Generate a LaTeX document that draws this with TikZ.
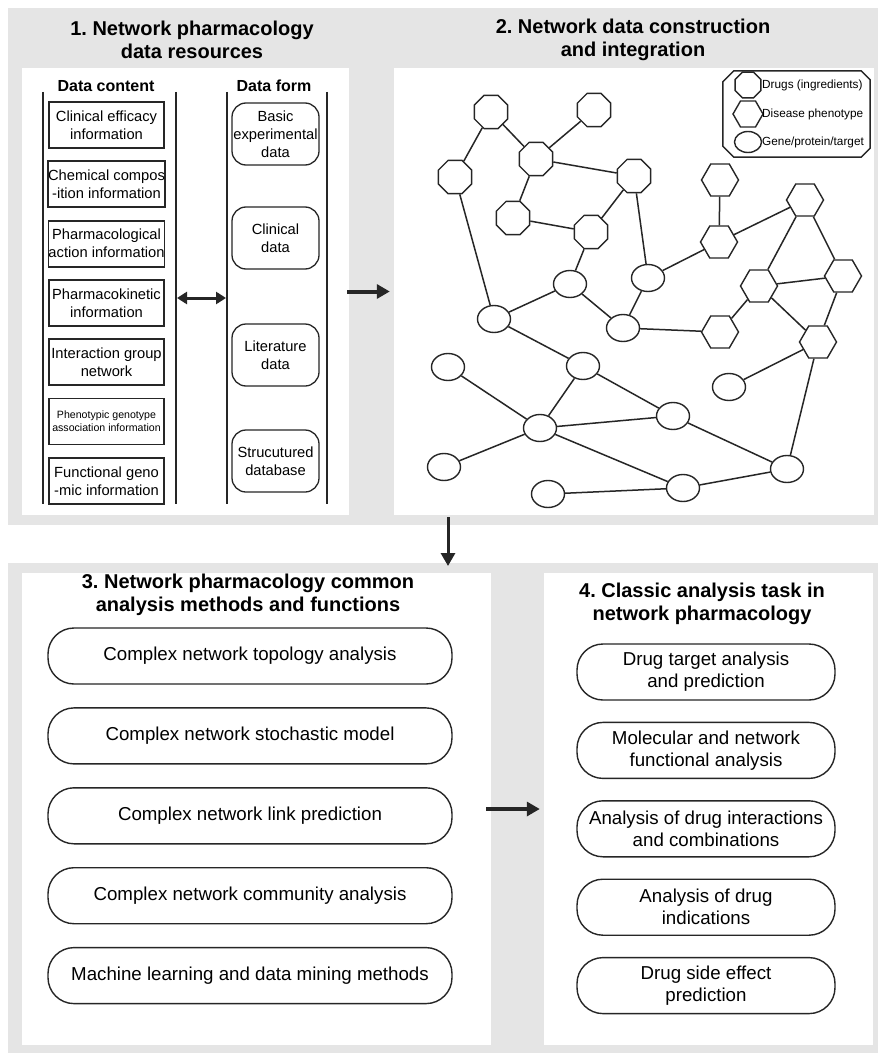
\documentclass[tikz,border=0pt]{standalone}
\usepackage{fontspec}
\setmainfont{Liberation Sans}
\usepackage{tikz}
\usetikzlibrary{arrows.meta,positioning,shapes.geometric}
\definecolor{panelgray}{RGB}{229,229,229}
\definecolor{inkgray}{RGB}{38,38,38}
\frenchspacing

\begin{document}
\begin{tikzpicture}[
    x=1pt, y=-1pt,
    >={Triangle[length=13pt,width=14pt]},
    backpanel/.style={rectangle, fill=panelgray, inner sep=0pt},
    panel/.style={rectangle, fill=white, inner sep=0pt},
    title/.style={align=center, font=\fontsize{20}{23}\selectfont\bfseries},
    colhead/.style={font=\fontsize{16}{19}\selectfont\bfseries},
    infobox/.style={
        rectangle,
        draw=inkgray,
        line width=1.8pt,
        minimum width=115pt,
        minimum height=46pt,
        inner sep=0pt,
        align=center,
        font=\fontsize{14.7}{18}\selectfont
    },
    formbox/.style={
        rectangle,
        rounded corners=14pt,
        draw=inkgray,
        line width=1.3pt,
        minimum width=87pt,
        minimum height=62pt,
        inner sep=0pt,
        align=center,
        font=\fontsize{14.7}{18}\selectfont
    },
    method/.style={
        rectangle,
        rounded corners=26pt,
        draw=inkgray,
        line width=1.4pt,
        minimum width=404pt,
        minimum height=56pt,
        inner sep=0pt,
        align=center,
        font=\fontsize{18.7}{22}\selectfont
    },
    task/.style={method, minimum width=258pt},
    colline/.style={draw=inkgray, line width=2pt},
    drug/.style={regular polygon, regular polygon sides=8, draw=inkgray, line width=1.4pt, minimum size=36pt, inner sep=0pt},
    disease/.style={regular polygon, regular polygon sides=6, draw=inkgray, line width=1.4pt, minimum size=37pt, inner sep=0pt},
    gene/.style={ellipse, draw=inkgray, line width=1.4pt, minimum width=33pt, minimum height=27pt, inner sep=0pt},
    link/.style={draw=inkgray, line width=1.5pt},
    legtext/.style={anchor=west, inner sep=0pt, font=\fontsize{11.8}{14}\selectfont},
    heavy/.style={draw=inkgray, line width=4pt}
]
\useasboundingbox (0,0) rectangle (883,1054);

% grey backgrounds and white panels
\node[backpanel, minimum width=870pt, minimum height=517pt] (bgtop) at (443,266.5) {};
\node[backpanel, minimum width=870pt, minimum height=490pt] (bgbot) at (443,808) {};
\node[panel, minimum width=327pt, minimum height=447pt] (p1) at (185.5,291.5) {};
\node[panel, minimum width=480pt, minimum height=447pt] (p2) at (634,291.5) {};
\node[panel, minimum width=469pt, minimum height=472pt] (p3) at (256.5,809) {};
\node[panel, minimum width=329pt, minimum height=472pt] (p4) at (708.5,809) {};

\node[title] (t1) at (192,40) {1. Network pharmacology\\data resources};
\node[title] (t2) at (633,40) {2. Network data construction\\and integration};
\node[title] (t3) at (248,595) {3. Network pharmacology common\\analysis methods and functions};
\node[title] (t4) at (702,604) {4. Classic analysis task in\\network pharmacology};

% panel 1
\node[colhead] (hcontent) at (106,86) {Data content};
\node[colhead] (hform) at (274,86) {Data form};

\draw[colline] (43,92) -- (43,504);
\draw[colline] (176,92) -- (176,504);
\draw[colline] (227,92) -- (227,504);
\draw[colline] (327,92) -- (327,504);

\node[infobox] (efficacy) at (106.5,125) {Clinical efficacy\\information};
\node[infobox, below=11.5pt of efficacy] (chemical) {Chemical compos\\-ition information};
\node[infobox, below=11.5pt of chemical] (action) {Pharmacological\\action information};
\node[infobox, below=11.5pt of action] (kinetic) {Pharmacokinetic\\information};
\node[infobox, below=11.5pt of kinetic] (interaction) {Interaction group\\network};
\node[infobox, below=11.5pt of interaction, font=\fontsize{10.6}{12.7}\selectfont] (phenotypic) {Phenotypic genotype\\association information};
\node[infobox, below=11.5pt of phenotypic] (genomic) {Functional geno\\-mic information};

\node[formbox] (basic) at (275.5,134) {Basic\\experimental\\data};
\node[formbox] (clinical) at (275.5,238) {Clinical\\data};
\node[formbox] (literature) at (275.5,355) {Literature\\data};
\node[formbox] (database) at (275.5,461) {Strucutured\\database};

\coordinate (colA) at (177,298);
\coordinate (colB) at (226,298);
\draw[{Triangle[length=10pt,width=12pt]}-{Triangle[length=10pt,width=12pt]}, line width=3pt, draw=inkgray] (colA) -- (colB);

% panel 2: network
\node[drug] (o1) at (491,112) {};
\node[drug] (o2) at (594,110) {};
\node[drug] (o3) at (536,159) {};
\node[drug] (o4) at (455,177) {};
\node[drug] (o5) at (634,176) {};
\node[drug] (o6) at (513,218) {};
\node[drug] (o7) at (591,232) {};

\node[disease] (h1) at (720,180) {};
\node[disease] (h2) at (805,200) {};
\node[disease] (h3) at (719,242) {};
\node[disease] (h4) at (759,286) {};
\node[disease] (h5) at (843,276) {};
\node[disease] (h6) at (720,332) {};
\node[disease] (h7) at (818,342) {};

\node[gene] (e1) at (570,284) {};
\node[gene] (e2) at (648,278) {};
\node[gene] (e3) at (494,319) {};
\node[gene] (e4) at (623,328) {};
\node[gene] (e5) at (583,366) {};
\node[gene] (e6) at (448,367) {};
\node[gene] (e7) at (729,387) {};
\node[gene] (e8) at (673,416) {};
\node[gene] (e9) at (540,428) {};
\node[gene] (e10) at (444,467) {};
\node[gene] (e11) at (787,469) {};
\node[gene] (e12) at (683,488) {};
\node[gene] (e13) at (548,494) {};

\draw[link] (o1) -- (o4);
\draw[link] (o1) -- (o3);
\draw[link] (o2) -- (o3);
\draw[link] (o3) -- (o5);
\draw[link] (o3) -- (o6);
\draw[link] (o6) -- (o7);
\draw[link] (o7) -- (o5);
\draw[link] (o4) -- (e3);
\draw[link] (o7) -- (e1);
\draw[link] (o5) -- (e2);
\draw[link] (h1) -- (h3);
\draw[link] (h3) -- (h2);
\draw[link] (h3) -- (e2);
\draw[link] (h2) -- (h4);
\draw[link] (h2) -- (h5);
\draw[link] (h4) -- (h5);
\draw[link] (h4) -- (h6);
\draw[link] (h4) -- (h7);
\draw[link] (h5) -- (h7);
\draw[link] (h7) -- (e7);
\draw[link] (h7) -- (e11);
\draw[link] (e1) -- (e3);
\draw[link] (e1) -- (e4);
\draw[link] (e2) -- (e4);
\draw[link] (e4) -- (h6);
\draw[link] (e3) -- (e5);
\draw[link] (e5) -- (e9);
\draw[link] (e5) -- (e8);
\draw[link] (e6) -- (e9);
\draw[link] (e9) -- (e8);
\draw[link] (e8) -- (e11);
\draw[link] (e9) -- (e10);
\draw[link] (e9) -- (e12);
\draw[link] (e13) -- (e12);
\draw[link] (e12) -- (e11);

% legend
\node[rectangle, minimum width=147pt, minimum height=86pt, inner sep=0pt] (legend) at (796.5,114) {};
\draw[link] ([xshift=11pt]legend.north west) -- ([xshift=-9pt]legend.north east)
    -- ([yshift=-9pt]legend.north east) -- ([yshift=9pt]legend.south east)
    -- ([xshift=-9pt]legend.south east) -- ([xshift=11pt]legend.south west)
    -- ([yshift=11pt]legend.south west) -- ([yshift=-11pt]legend.north west) -- cycle;
\node[drug, minimum size=28pt] (ldrug) at (748,85) {};
\node[disease, minimum size=30pt] (ldisease) at (748,114) {};
\node[gene, minimum width=27pt, minimum height=21pt] (lgene) at (748,142) {};
\node[legtext] (tdrug) at (762,85) {Drugs (ingredients)};
\node[legtext] (tdisease) at (762,114) {Disease phenotype};
\node[legtext] (tgene) at (762,142) {Gene/protein/target};

% panel 3 and panel 4
\node[method] (topology) at (250,656) {Complex network topology analysis};
\node[method, below=22.5pt of topology] (stochastic) {Complex network stochastic model};
\node[method, below=22.5pt of stochastic] (linkpred) {Complex network link prediction};
\node[method, below=22.5pt of linkpred] (community) {Complex network community analysis};
\node[method, below=22.5pt of community] (mining) {Machine learning and data mining methods};

\node[task] (target) at (706,672) {Drug target analysis\\and prediction};
\node[task, below=21pt of target] (molecular) {Molecular and network\\functional analysis};
\node[task, below=21pt of molecular] (combination) {Analysis of drug interactions\\and combinations};
\node[task, below=21pt of combination] (indication) {Analysis of drug\\indications};
\node[task, below=21pt of indication] (sideeffect) {Drug side effect\\prediction};

% arrows between stages
\coordinate (downA) at (448,517);
\coordinate (downB) at (448,566);
\draw[->, heavy, shorten <=-2pt, shorten >=4pt] (p1.east) -- (p2.west);
\draw[->, heavy, line width=3pt] (downA) -- (downB);
\draw[->, heavy, shorten <=-5pt, shorten >=4pt] (p3.east) -- (p4.west);
\end{tikzpicture}
\end{document}
